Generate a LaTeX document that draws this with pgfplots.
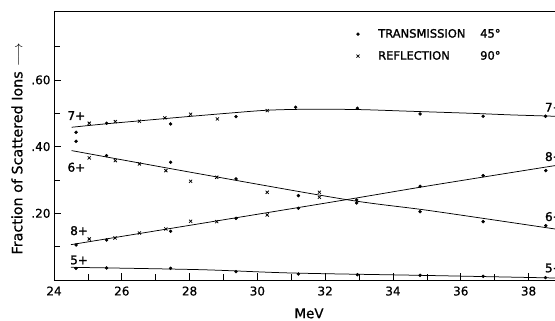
\documentclass[border=0pt]{standalone}
\usepackage{pgfplots}
\pgfplotsset{compat=1.18}
\usepackage{fontspec}
\setmainfont{DejaVu Sans}[FakeBold=0.6]
\newfontfamily\heavy{DejaVu Sans}[FakeBold=1.6]
\tikzset{lab/.style={font=\heavy\fontsize{12}{14}\selectfont}}

\begin{document}
\begin{tikzpicture}
\begin{axis}[
  scale only axis, width=501pt, height=269pt,
  xmin=24, xmax=38.78, ymin=0, ymax=0.8066,
  axis x line*=bottom, axis y line*=left,
  axis line style={line width=0.8pt, black},
  tick align=inside,
  xtick={24,26,...,38}, minor xtick={25,27,...,37},
  ytick={0.2,0.4,0.6}, yticklabels={.20,.40,.60},
  minor ytick={0.1,0.3,0.5,0.7},
  major tick length=7pt, minor tick length=6pt,
  tick style={line width=0.7pt, black},
  /pgf/number format/assume math mode=true,
  ticklabel style={font=\fontsize{12}{14}\selectfont},
  xticklabel style={yshift=-3pt},
  xlabel={MeV},
  every axis x label/.style={at={(rel axis cs:0.509,-0.124)}, anchor=center, font=\fontsize{13.5}{16}\selectfont},
  ylabel={Fraction of Scattered Ions $\longrightarrow$},
  every axis y label/.style={at={(rel axis cs:-0.0738,0.487)}, anchor=center, rotate=90, font=\fontsize{14.3}{16}\selectfont},
  clip=false,
  legend image code/.code={\draw[#1] plot coordinates {(0pt,0pt)}; \path (-4pt,-3pt) (18pt,3pt);},
  legend style={at={(rel axis cs:0.598,0.941)}, anchor=north west, draw=none, fill=none,
    font=\heavy\fontsize{11.5}{14}\selectfont, row sep=8pt, inner sep=0pt},
  legend cell align=left,
  line/.style={black, line width=0.75pt, no markers, smooth, tension=0.5},
  tr/.style={black, only marks, mark=*, mark size=1.5pt},
  re/.style={black, only marks, mark=x, mark size=2.2pt, mark options={line width=0.75pt}},
]
\addlegendimage{tr}
\addlegendentry{\makebox[102pt][l]{TRANSMISSION}45°}
\addlegendimage{re}
\addlegendentry{\makebox[102pt][l]{REFLECTION}90°}

\draw[line width=0.8pt] (rel axis cs:0,1) -- (rel axis cs:1,1);

% fitted lines
\addplot[line] coordinates {(24.52,0.458) (25.5,0.468) (26.5,0.477) (27.72,0.488) (29,0.499) (30.28,0.509) (31.5,0.512) (33,0.511) (34.5,0.506) (36.27,0.500) (37.5,0.495) (38.78,0.491)};
\addplot[line] coordinates {(24.52,0.388) (28.31,0.318) (32.63,0.241) (35.09,0.208) (38.78,0.153)};
\addplot[line] coordinates {(24.5,0.106) (28.31,0.169) (32.63,0.241) (35.09,0.283) (38.78,0.343)};
\addplot[line] coordinates {(24.5,0.038) (28.3,0.031) (31,0.021) (34.8,0.014) (38.78,0.006)};

% 7+
\addplot[tr] coordinates {(24.65,0.443) (24.65,0.416) (25.55,0.470) (27.44,0.468) (29.37,0.490) (31.13,0.518) (32.95,0.515) (34.8,0.498) (36.66,0.491) (38.5,0.491)};
\addplot[re] coordinates {(25.04,0.470) (25.81,0.475) (26.52,0.476) (27.27,0.486) (28.03,0.497) (28.82,0.483) (30.29,0.508)};
% 6+
\addplot[tr] coordinates {(25.55,0.373) (27.44,0.353) (29.37,0.303) (31.21,0.253) (32.93,0.240) (34.8,0.205) (36.66,0.175) (38.51,0.163)};
\addplot[re] coordinates {(25.04,0.366) (25.81,0.358) (26.52,0.348) (27.3,0.328) (28.03,0.296) (28.8,0.308) (30.29,0.263) (31.83,0.263)};
% 8+
\addplot[tr] coordinates {(24.65,0.105) (25.55,0.120) (27.44,0.146) (29.37,0.185) (31.21,0.215) (32.93,0.231) (34.8,0.281) (36.66,0.313) (38.51,0.328)};
\addplot[re] coordinates {(25.04,0.123) (25.8,0.126) (26.52,0.141) (27.3,0.153) (28.03,0.176) (28.8,0.175) (30.29,0.195) (31.83,0.248)};
% 5+
\addplot[tr] coordinates {(24.65,0.035) (25.55,0.036) (27.44,0.035) (29.37,0.025) (31.21,0.018) (32.95,0.016) (34.8,0.014) (36.66,0.011) (38.5,0.007)};

% state labels
\node[lab] at (axis cs:24.66,0.493) {7+};
\node[lab] at (axis cs:24.66,0.338) {6+};
\node[lab] at (axis cs:24.74,0.148) {8+};
\node[lab] at (axis cs:24.74,0.060) {5+};
\node[lab, anchor=west, inner sep=0pt] at (axis cs:38.48,0.518) {7+};
\node[lab, anchor=west, inner sep=0pt] at (axis cs:38.48,0.370) {8+};
\node[lab, anchor=west, inner sep=0pt] at (axis cs:38.48,0.190) {6+};
\node[lab, anchor=west, inner sep=0pt] at (axis cs:38.48,0.036) {5+};
\end{axis}
\pgfresetboundingbox
\path ([xshift=-54pt,yshift=-41pt]current axis.south west) rectangle ([yshift=11pt]current axis.north east);
\end{tikzpicture}
\end{document}
